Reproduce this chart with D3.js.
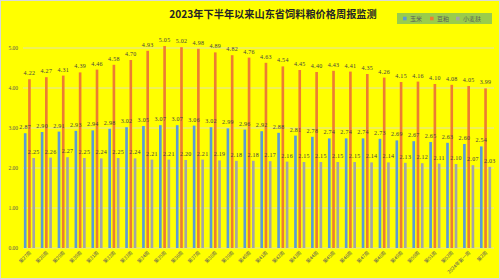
<!DOCTYPE html>
<html>
<head>
<meta charset="utf-8">
<script src="https://cdn.jsdelivr.net/npm/d3@7"></script>
<style>
  body { margin: 0; background: #fff; }
  svg { display: block; }
</style>
</head>
<body>
<script>
// weekly data, yuan/kg
var weeks = ["第27周", "第28周", "第29周", "第30周", "第31周", "第32周", "第33周",
             "第34周", "第35周", "第36周", "第37周", "第38周", "第39周", "第40周",
             "第41周", "第42周", "第43周", "第44周", "第45周", "第46周", "第47周",
             "第48周", "第49周", "第50周", "第51周", "第52周", "2024年第一周", "第2周"];
var corn = [2.87, 2.90, 2.91, 2.93, 2.94, 2.98, 3.02, 3.05, 3.07, 3.07, 3.06, 3.02, 2.99, 2.96,
            2.92, 2.88, 2.81, 2.78, 2.74, 2.74, 2.74, 2.73, 2.69, 2.67, 2.65, 2.63, 2.60, 2.54];
var soyMeal = [4.22, 4.27, 4.31, 4.39, 4.46, 4.58, 4.70, 4.93, 5.05, 5.02, 4.98, 4.89, 4.82, 4.76,
               4.63, 4.54, 4.45, 4.40, 4.43, 4.41, 4.35, 4.26, 4.15, 4.16, 4.10, 4.08, 4.05, 3.99];
var wheatBran = [2.25, 2.26, 2.27, 2.25, 2.24, 2.25, 2.24, 2.21, 2.21, 2.20, 2.21, 2.19, 2.18, 2.18,
                 2.17, 2.16, 2.15, 2.15, 2.15, 2.15, 2.14, 2.14, 2.13, 2.12, 2.11, 2.10, 2.07, 2.03];
var seriesNames = ["玉米", "豆粕", "小麦麸"];
var seriesColors = ["#5b9bd5", "#ed7d31", "#a5a5a5"];
var yTicks = [0, 1, 2, 3, 4, 5];

var width = 500, height = 279;
var series = [corn, soyMeal, wheatBran];

var svg = d3.select("body").append("svg")
            .attr("width", width)
            .attr("height", height);

// background
svg.append("rect")
   .attr("x", 0.5).attr("y", 0.5)
   .attr("width", width - 1).attr("height", height - 1)
   .attr("fill", "#ffff00")
   .attr("stroke", "#d9d9d9");

var x0 = d3.scaleBand().domain(weeks).range([21, 494]).paddingInner(0.34).paddingOuter(0.17);
var x1 = d3.scaleBand().domain(d3.range(3)).range([0, x0.bandwidth()]).paddingInner(0.38);
var y = d3.scaleLinear().domain([0, 6]).range([248, 8]);

// grid
svg.append("g")
   .selectAll("line")
   .data(yTicks)
   .enter()
     .append("line")
     .attr("x1", 23).attr("x2", 494)
     .attr("y1", function(d) { return y(d); })
     .attr("y2", function(d) { return y(d); })
     .attr("stroke", "#d9d9d9")
     .attr("stroke-width", 0.8);

// y axis labels
svg.append("g")
   .selectAll("text")
   .data(yTicks)
   .enter()
     .append("text")
     .attr("x", 18)
     .attr("y", function(d) { return y(d) + 2; })
     .attr("text-anchor", "end")
     .attr("font-family", "Liberation Serif, serif")
     .attr("font-size", 5.5)
     .attr("fill", "#595959")
     .text(function(d) { return d3.format(".2f")(d); });

// bars
var groups = svg.append("g")
   .selectAll("g.week")
   .data(weeks)
   .enter()
     .append("g")
     .classed("week", true)
     .attr("transform", function(d) { return "translate(" + x0(d) + ",0)"; });

groups.selectAll("rect")
   .data(function(d, i) { return series.map(function(s, k) { return { k: k, v: s[i] }; }); })
   .enter()
     .append("rect")
     .attr("x", function(d) { return x1(d.k); })
     .attr("width", x1.bandwidth())
     .attr("y", function(d) { return y(d.v); })
     .attr("height", function(d) { return y(0) - y(d.v); })
     .attr("fill", function(d) { return seriesColors[d.k]; });

// data labels
groups.selectAll("text")
   .data(function(d, i) { return series.map(function(s, k) { return { k: k, v: s[i] }; }); })
   .enter()
     .append("text")
     .attr("x", function(d) { return x1(d.k) + x1.bandwidth() / 2; })
     .attr("y", function(d) { return y(d.v) - 4; })
     .attr("text-anchor", "middle")
     .attr("font-family", "Liberation Serif, serif")
     .attr("font-size", 6)
     .attr("letter-spacing", 0.3)
     .attr("fill", "#404040")
     .text(function(d) { return d3.format(".2f")(d.v); });

// x labels
svg.append("g")
   .selectAll("text")
   .data(weeks)
   .enter()
     .append("text")
     .attr("transform", function(d) {
         return "translate(" + (x0(d) + x0.bandwidth() / 2 + 2) + ",253) rotate(-45)";
     })
     .attr("text-anchor", "end")
     .attr("font-family", "Noto Sans CJK SC, sans-serif")
     .attr("font-size", 4.8)
     .attr("fill", "#595959")
     .text(function(d) { return d; });

// title
svg.append("text")
   .attr("x", 273)
   .attr("y", 18)
   .attr("text-anchor", "middle")
   .attr("font-family", "Noto Sans CJK SC, sans-serif")
   .attr("font-weight", "bold")
   .attr("font-size", 10.2)
   .attr("fill", "#262626")
   .text("2023年下半年以来山东省饲料粮价格周报监测");

// legend
var legend = svg.append("g").attr("transform", "translate(397,13)");
legend.append("rect")
      .attr("width", 95).attr("height", 11)
      .attr("fill", "#99cc4c");
var legendX = [6, 33, 59];
var items = legend.selectAll("g.item")
      .data(seriesNames)
      .enter()
        .append("g")
        .classed("item", true)
        .attr("transform", function(d, i) { return "translate(" + legendX[i] + ",0)"; });
items.append("rect")
     .attr("y", 3.7).attr("width", 3.6).attr("height", 3.6)
     .attr("fill", function(d, i) { return seriesColors[i]; });
items.append("text")
     .attr("x", 7).attr("y", 7.8)
     .attr("font-family", "Noto Sans CJK SC, sans-serif")
     .attr("font-size", 6)
     .attr("fill", "#595959")
     .text(function(d) { return d; });
</script>
</body>
</html>
